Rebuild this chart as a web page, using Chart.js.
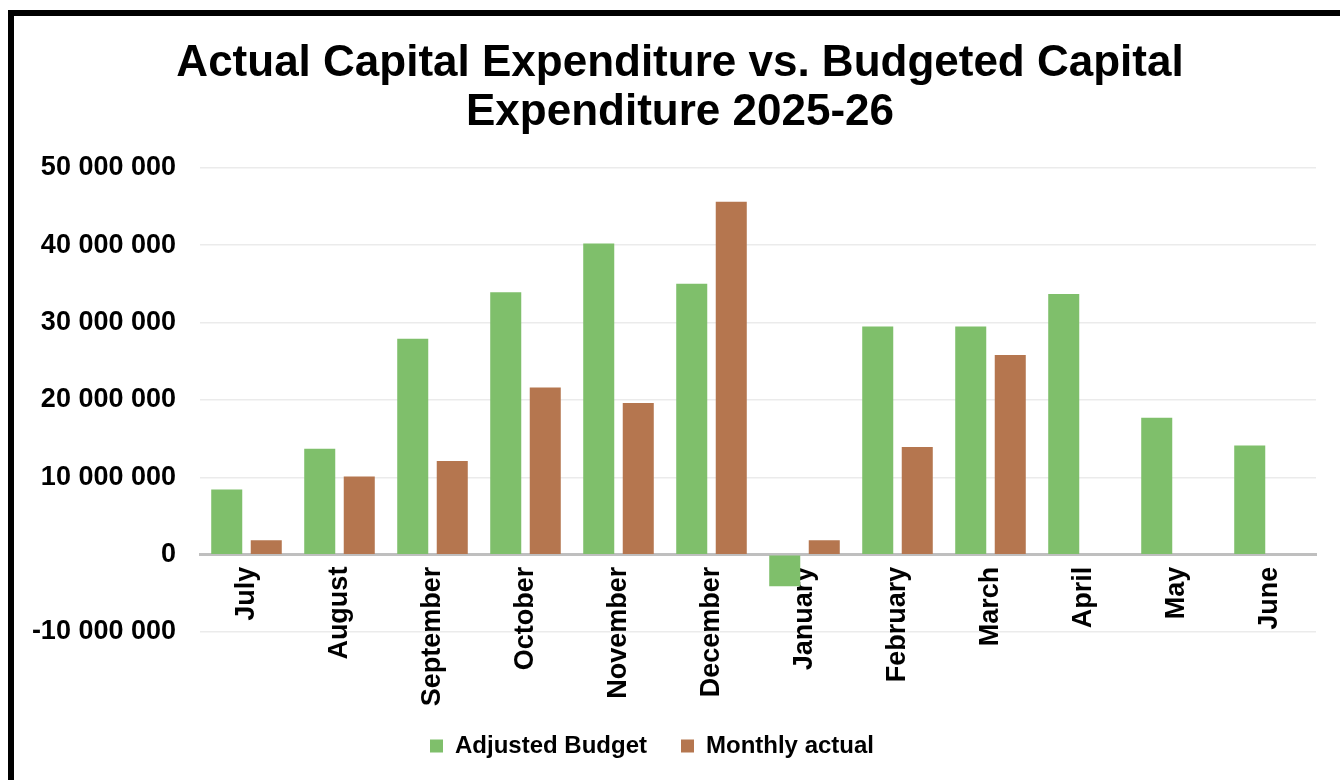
<!DOCTYPE html>
<html>
<head>
<meta charset="utf-8">
<script src="https://cdn.jsdelivr.net/npm/chart.js@4/dist/chart.umd.min.js"></script>
<style>
  body { margin: 0; background: #fff; }
  #frame {
    position: absolute; left: 8px; top: 10px;
    width: 1332px; height: 770px;
    border-top: 6px solid #000; border-left: 6px solid #000;
  }
  #capexChart { display: block; }
</style>
</head>
<body>
<div id="frame">
  <canvas id="capexChart" width="1326" height="764"></canvas>
</div>
<script>
// chart data (rand)
const months = ['July', 'August', 'September', 'October', 'November', 'December',
                'January', 'February', 'March', 'April', 'May', 'June'];
const adjustedBudget = [8430000, 13700000, 27900000, 33900000, 40200000, 35000000,
                        -4100000, 29500000, 29500000, 33700000, 17700000, 14100000];
const monthlyActual = [1850000, 10100000, 12100000, 21600000, 19600000, 45600000,
                       1850000, 13900000, 25800000, null, null, null];
const yTicks = [-10000000, 0, 10000000, 20000000, 30000000, 40000000, 50000000];

const fontName = "'Liberation Sans', Arial, sans-serif";

function spaced(v) {
    return v.toLocaleString('en-US').replace(/,/g, ' ');
}

// title sits a bit right of centre, legend a bit left, in the original
const blockNudge = {
    id: 'blockNudge',
    afterLayout(chart) {
        if (chart.titleBlock) {
            chart.titleBlock.left += 15;
            chart.titleBlock.right += 15;
        }
        if (chart.legend) {
            chart.legend.left -= 13;
            chart.legend.right -= 13;
        }
    }
};

const ctx = document.getElementById('capexChart').getContext('2d');
new Chart(ctx, {
    type: 'bar',
    data: {
        labels: months,
        datasets: [
            {
                label: 'Adjusted Budget',
                data: adjustedBudget,
                backgroundColor: '#7fbf6b',
                categoryPercentage: 0.85,
                barPercentage: 0.785
            },
            {
                label: 'Monthly actual',
                data: monthlyActual,
                backgroundColor: '#b5764f',
                categoryPercentage: 0.85,
                barPercentage: 0.785
            }
        ]
    },
    plugins: [blockNudge],
    options: {
        responsive: false,
        animation: false,
        layout: { padding: { left: 0, right: 24, top: 0, bottom: 12 } },
        scales: {
            x: {
                position: { y: 0 },
                grid: { display: false, drawTicks: false },
                border: { display: true, color: '#bfbfbf', width: 3 },
                ticks: {
                    autoSkip: false,
                    minRotation: 90,
                    maxRotation: 90,
                    padding: 12,
                    color: '#000',
                    font: { family: fontName, size: 27, weight: 'bold' }
                }
            },
            spacer: {
                type: 'category',
                axis: 'x',
                position: 'bottom',
                grid: { display: false },
                border: { display: false },
                ticks: { display: false },
                afterFit: function(scale) { scale.height = 68; }
            },
            y: {
                min: -10000000,
                max: 50000000,
                afterBuildTicks: function(scale) {
                    scale.ticks = yTicks.map(v => ({ value: v }));
                },
                afterFit: function(scale) { scale.width = 186; },
                grid: { color: '#ebebeb', lineWidth: 1.5, drawTicks: false },
                border: { display: false },
                ticks: {
                    padding: 24,
                    color: '#000',
                    font: { family: fontName, size: 27, weight: 'bold' },
                    callback: v => spaced(v)
                }
            }
        },
        plugins: {
            title: {
                display: true,
                text: ['Actual Capital Expenditure vs. Budgeted Capital', 'Expenditure 2025-26'],
                color: '#000',
                font: { family: fontName, size: 44, weight: 'bold', lineHeight: 1.1 },
                padding: { top: 24, bottom: 31 }
            },
            legend: {
                position: 'bottom',
                labels: {
                    boxWidth: 13,
                    boxHeight: 13,
                    padding: 34,
                    color: '#000',
                    font: { family: fontName, size: 24, weight: 'bold' }
                }
            },
            tooltip: { enabled: false }
        }
    }
});
</script>
</body>
</html>
